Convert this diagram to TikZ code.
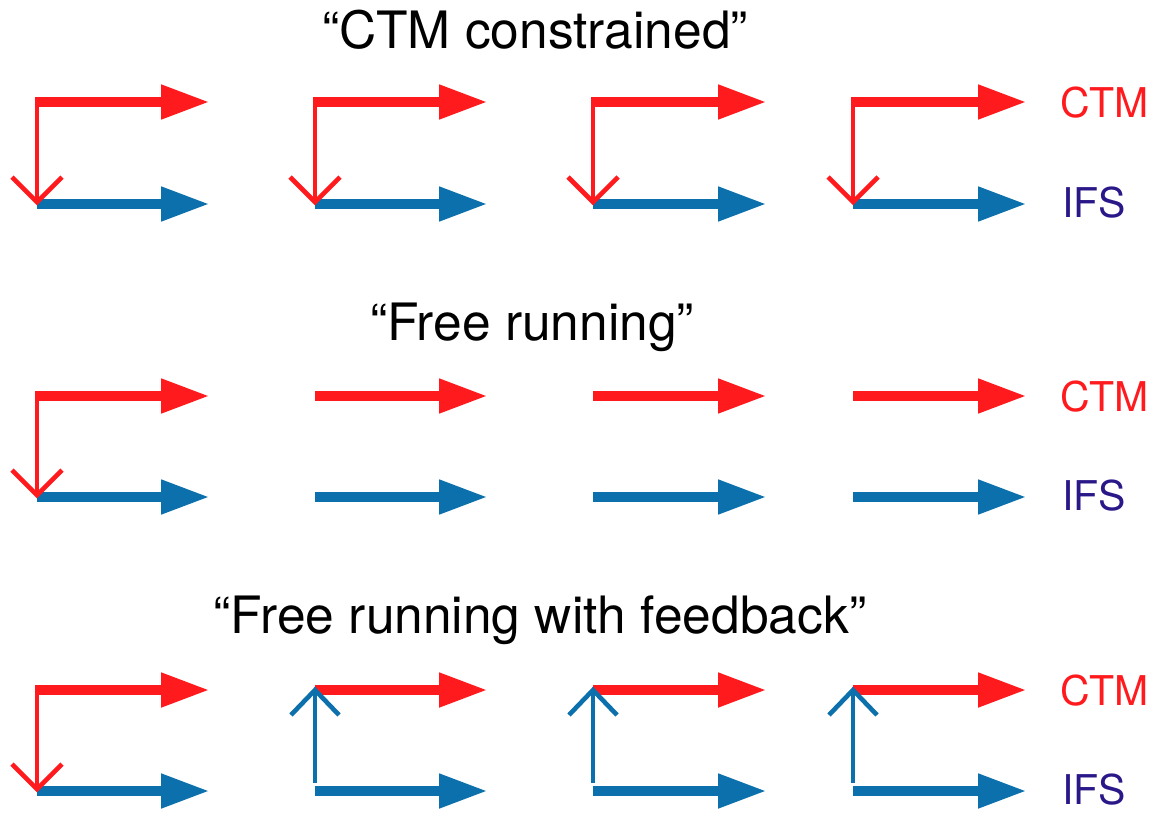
\documentclass[tikz,border=0pt]{standalone}
\usepackage{fontspec}
\setmainfont{TeX Gyre Heros}
\usetikzlibrary{arrows.meta,calc}
\definecolor{ctmred}{RGB}{255,26,30}
\definecolor{ifsblue}{RGB}{11,112,171}
\definecolor{ifstext}{RGB}{42,24,137}
\begin{document}
\begin{tikzpicture}[x=1pt,y=-1pt,
  fatarrow/.style={line width=10.5pt,line cap=butt,-{Triangle[length=49pt,width=32pt]}},
  ctmarrow/.style={fatarrow,draw=ctmred},
  ifsarrow/.style={fatarrow,draw=ifsblue},
  thinline/.style={line width=4.6pt,line cap=butt,line join=miter},
  title/.style={inner sep=0pt,anchor=base,font=\fontsize{51.5}{60}\selectfont},
  lab/.style={inner sep=0pt,anchor=base west,font=\fontsize{41}{48}\selectfont}]
\useasboundingbox (0,0) rectangle (1156,812);
% titles
\node[title] (t1) at (535,48) {“CTM constrained”};
\node[title] (t2) at (532,340) {“Free running”};
\node[title] (t3) at (540,633) {“Free running with feedback”};
% rows of arrows
\foreach \r/\yr/\yb in {1/102/204, 2/396/497, 3/690/791} {
  \foreach \c/\xs/\xe in {1/37/210, 2/315/488, 3/593/767, 4/853/1027} {
    \coordinate (R\r\c s) at (\xs,\yr);
    \coordinate (R\r\c e) at (\xe,\yr);
    \coordinate (B\r\c s) at (\xs,\yb);
    \coordinate (B\r\c e) at (\xe,\yb);
    \draw[ctmarrow] (R\r\c s) -- (R\r\c e);
    \draw[ifsarrow] (B\r\c s) -- (B\r\c e);
  }
  \node[lab,text=ctmred] (ctm\r) at (1060,\yr+15) {CTM};
  \node[lab,text=ifstext] (ifs\r) at (1062,\yb+13) {IFS};
}
% red downward links (CTM constrains IFS)
\foreach \k in {11,12,13,14,21,31} {
  \draw[thinline,draw=ctmred,shorten <=-5pt,shorten >=2pt] (R\k s) -- (B\k s);
  \draw[thinline,draw=ctmred] ($(B\k s)+(-25,-27)$) -- ($(B\k s)+(0,-2)$) -- ($(B\k s)+(25,-27)$);
}
% blue upward links (feedback)
\foreach \k in {32,33,34} {
  \draw[thinline,draw=ifsblue,shorten <=8pt,shorten >=2pt] (B\k s) -- (R\k s);
  \draw[thinline,draw=ifsblue] ($(R\k s)+(-24,25)$) -- ($(R\k s)+(0,0)$) -- ($(R\k s)+(24,25)$);
}
\end{tikzpicture}
\end{document}
